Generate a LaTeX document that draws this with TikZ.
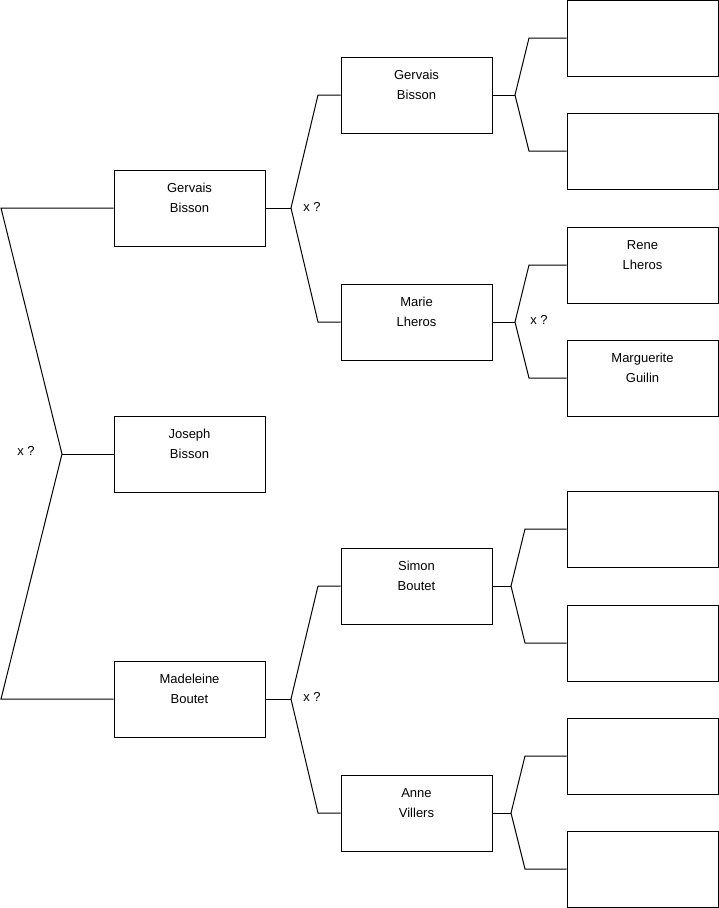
\documentclass[tikz,border=0pt]{standalone}
\usepackage{fontspec}
\setmainfont{Liberation Sans}
\usepackage{tikz}
\usetikzlibrary{positioning}

\begin{document}
\begin{tikzpicture}[
  x=1pt, y=-1pt, line width=1pt,
  person/.style={draw, minimum width=151pt, minimum height=76pt, align=center,
                 inner sep=0pt, font=\fontsize{13}{20}\selectfont},
  couple/.style={font=\fontsize{13}{16}\selectfont, inner sep=0pt},
]
  \useasboundingbox (0,0) rectangle (719,908);

  % generation 1
  \node[person] (gervais)   at (189.5,208) {Gervais\\Bisson\\\mbox{}};
  \node[person] (joseph)    at (189.5,454) {Joseph\\Bisson\\\mbox{}};
  \node[person] (madeleine) at (189.5,699) {Madeleine\\Boutet\\\mbox{}};

  % generation 2
  \node[person] (gervaisP) at (416.5,95)  {Gervais\\Bisson\\\mbox{}};
  \node[person] (marie)    at (416.5,322) {Marie\\Lheros\\\mbox{}};
  \node[person] (simon)    at (416.5,586) {Simon\\Boutet\\\mbox{}};
  \node[person] (anne)     at (416.5,813) {Anne\\Villers\\\mbox{}};

  % generation 3
  \node[person] (gg1)        at (642.5,38)  {};
  \node[person] (gg2)        at (642.5,151) {};
  \node[person] (rene)       at (642.5,265) {Rene\\Lheros\\\mbox{}};
  \node[person] (marguerite) at (642.5,378) {Marguerite\\Guilin\\\mbox{}};
  \node[person] (gg5)        at (642.5,529) {};
  \node[person] (gg6)        at (642.5,643) {};
  \node[person] (gg7)        at (642.5,756) {};
  \node[person] (gg8)        at (642.5,869) {};

  % couple marks
  \node[couple] (xJoseph)  at (26,451)  {x ?};
  \node[couple] (xGervais) at (312,207) {x ?};
  \node[couple] (xMarie)   at (539,320) {x ?};
  \node[couple] (xMadel)   at (312,697) {x ?};

  % junctions
  \coordinate (jTop)  at (1,208);
  \coordinate (jMid)  at (62,454);
  \coordinate (jBot)  at (1,699);
  \coordinate (jG)    at (291,208);
  \coordinate (jGt)   at (318,95);
  \coordinate (jGb)   at (318,322);
  \coordinate (jM)    at (291,699);
  \coordinate (jMt)   at (318,586);
  \coordinate (jMb)   at (318,813);
  \coordinate (jGP)   at (515,95);
  \coordinate (jGPt)  at (529,38);
  \coordinate (jGPb)  at (529,151);
  \coordinate (jMa)   at (515,322);
  \coordinate (jMat)  at (529,265);
  \coordinate (jMab)  at (529,378);
  \coordinate (jS)    at (511,586);
  \coordinate (jSt)   at (525,529);
  \coordinate (jSb)   at (525,643);
  \coordinate (jA)    at (511,813);
  \coordinate (jAt)   at (525,756);
  \coordinate (jAb)   at (525,869);

  % brackets
  \draw (gervais.west) -- (jTop) -- (jMid) -- (jBot) -- (madeleine.west);
  \draw (jMid) -- (joseph.west);

  \draw (gervais.east) -- (jG);
  \draw (gervaisP.west) -- (jGt) -- (jG) -- (jGb) -- (marie.west);
  \draw (madeleine.east) -- (jM);
  \draw (simon.west) -- (jMt) -- (jM) -- (jMb) -- (anne.west);

  \draw (gervaisP.east) -- (jGP);
  \draw (gg1.west) -- (jGPt) -- (jGP) -- (jGPb) -- (gg2.west);
  \draw (marie.east) -- (jMa);
  \draw (rene.west) -- (jMat) -- (jMa) -- (jMab) -- (marguerite.west);
  \draw (simon.east) -- (jS);
  \draw (gg5.west) -- (jSt) -- (jS) -- (jSb) -- (gg6.west);
  \draw (anne.east) -- (jA);
  \draw (gg7.west) -- (jAt) -- (jA) -- (jAb) -- (gg8.west);
\end{tikzpicture}
\end{document}
